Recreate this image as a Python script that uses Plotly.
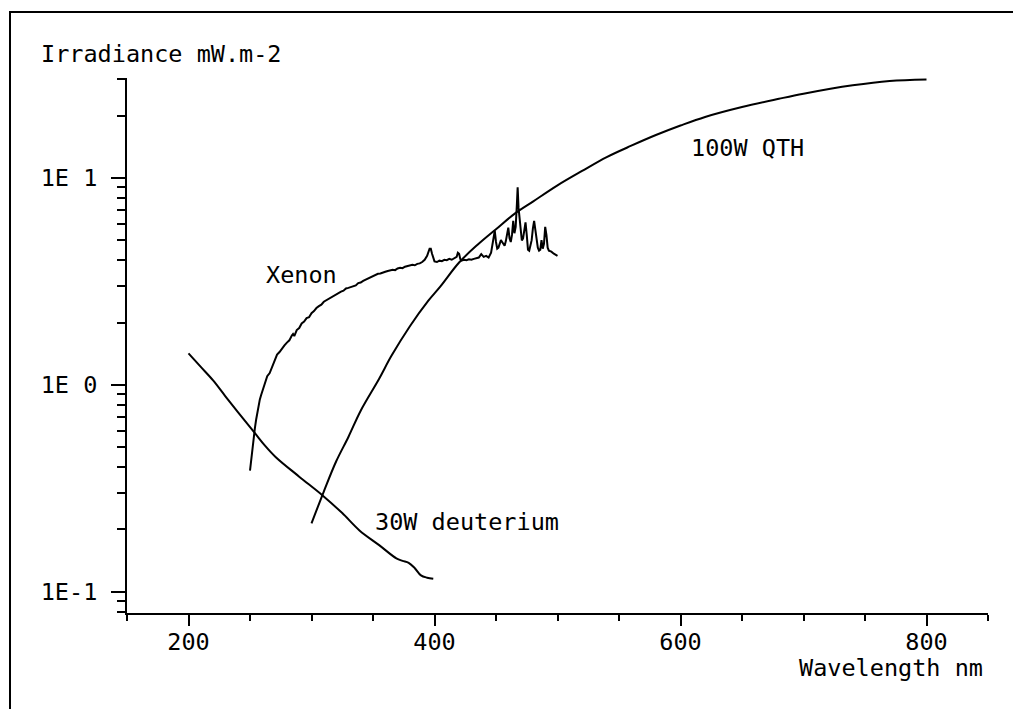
import math
import plotly.graph_objects as go

# ---------------- data ----------------
deut_nm = [200, 210, 220, 230, 240, 254, 262, 271, 290, 309, 325, 339, 355, 369, 374, 379, 384, 389, 394, 399]
deut_val = [1.42, 1.22, 1.05, 0.88, 0.74, 0.584, 0.51, 0.447, 0.36, 0.292, 0.24, 0.198, 0.168, 0.145, 0.141, 0.138, 0.13, 0.12, 0.117, 0.1156]

xe_nm = [250, 251, 252, 253, 254, 255, 256, 257, 258, 259, 260, 261, 262, 263, 264, 266, 268, 270,
         272, 274, 276, 278, 280, 282, 284, 285, 286, 288, 290, 292, 294, 296, 298, 300, 302, 304,
         306, 308, 310, 312, 314, 316, 318, 320, 322, 324, 326, 328, 330, 332, 334, 336, 338, 340,
         342, 344, 346, 348, 350, 352, 354, 356, 358, 360, 362, 364, 366, 368, 370, 372, 374, 376,
         378, 380, 382, 384, 386, 388, 390, 392, 394, 396, 397, 398, 400, 402, 404, 406, 408, 410,
         412, 414, 416, 418, 419, 420, 421, 422, 424, 426, 428, 430, 432, 434, 436, 438, 440, 442,
         444, 446, 447, 448, 449, 450, 451, 452, 453, 454, 455, 456, 457, 458, 459, 460, 461, 462,
         463, 464, 465, 466, 467, 467.6, 468.3, 469, 470, 471, 472, 473, 474, 475, 476, 477, 478,
         479, 480, 481, 482, 483, 484, 485, 486, 487, 488, 489, 490, 491, 492, 493, 495, 497, 499, 500]
xe_val = [0.385, 0.44, 0.50, 0.56, 0.62, 0.68, 0.74, 0.80, 0.85, 0.89, 0.93, 0.98, 1.02, 1.07, 1.10, 1.14, 1.22, 1.33,
          1.40, 1.44, 1.50, 1.55, 1.60, 1.64, 1.73, 1.76, 1.72, 1.84, 1.88, 1.98, 2.02, 2.10, 2.12, 2.22, 2.27, 2.35,
          2.40, 2.44, 2.52, 2.56, 2.62, 2.66, 2.70, 2.73, 2.78, 2.82, 2.85, 2.92, 2.94, 2.97, 2.99, 3.02, 3.10, 3.12,
          3.18, 3.22, 3.26, 3.30, 3.36, 3.38, 3.44, 3.45, 3.50, 3.52, 3.55, 3.57, 3.60, 3.58, 3.65, 3.68, 3.66, 3.72,
          3.75, 3.78, 3.80, 3.78, 3.84, 3.86, 3.92, 4.02, 4.20, 4.55, 4.55, 4.30, 3.95, 3.92, 3.98, 3.96, 4.02, 4.00,
          4.06, 4.02, 4.08, 4.15, 4.35, 4.30, 4.05, 3.98, 4.02, 4.00, 4.04, 4.02, 4.06, 4.10, 4.12, 4.28, 4.15, 4.20,
          4.12, 4.35, 4.70, 5.30, 5.55, 4.90, 4.55, 4.60, 4.85, 5.00, 4.90, 4.75, 4.70, 4.95, 5.40, 5.75, 5.10, 4.90,
          5.30, 6.20, 5.40, 5.80, 7.50, 9.00, 7.20, 6.45, 5.60, 4.98, 5.10, 5.60, 6.10, 5.30, 4.50, 4.45, 4.70,
          5.00, 5.70, 6.20, 5.60, 4.90, 4.60, 4.45, 4.50, 5.00, 4.55, 4.80, 5.80, 5.30, 4.60, 4.45, 4.40, 4.30, 4.22, 4.20]

qth_nm = [300, 310, 320, 330, 340, 355, 365, 380, 395, 405, 420, 435, 450, 465, 480, 500, 520, 540, 560,
          580, 600, 620, 650, 680, 700, 740, 770, 800]
qth_val = [0.214, 0.305, 0.426, 0.56, 0.75, 1.07, 1.38, 1.92, 2.55, 3.0, 3.9, 4.75, 5.65, 6.7, 7.68, 9.2, 10.8,
           12.6, 14.3, 16.1, 17.9, 19.7, 22.0, 24.1, 25.5, 28.0, 29.4, 29.9]

x_major = [200, 400, 600, 800]
x_minor = [150, 250, 300, 350, 450, 500, 550, 650, 700, 750, 850]
y_major = [0.1, 1, 10]
y_major_text = ["1E-1", "1E 0", "1E 1"]
y_minor = [0.08, 0.09, 0.2, 0.3, 0.4, 0.5, 0.6, 0.7, 0.8, 0.9, 2, 3, 4, 5, 6, 7, 8, 9, 20, 30]

labels = [("Xenon", 261.0, 3.41), ("100W QTH", 606.5, 13.96), ("30W deuterium", 350.0, 0.217)]

# ---------------- figure ----------------
FONT = "DejaVu Sans Mono"
FS = 23.5
W, H = 1013, 709
ML, MR, MT, MB = 127, 25, 78, 96
PW, PH = W - ML - MR, H - MT - MB

fig = go.Figure()
for xs, ys, shp in [(deut_nm, deut_val, "spline"), (xe_nm, xe_val, "linear"), (qth_nm, qth_val, "spline")]:
    fig.add_trace(go.Scatter(x=xs, y=ys, mode="lines", line=dict(color="black", width=2, shape=shp),
                             showlegend=False, hoverinfo="skip"))

for txt, lx, ly in labels:
    fig.add_annotation(x=lx, y=math.log10(ly), xref="x", yref="y", text=txt, showarrow=False,
                       xanchor="left", yanchor="middle", font=dict(family=FONT, size=FS, color="black"))

fig.add_annotation(x=(39 - ML) / PW, y=(MT + PH - 54.5) / PH, xref="paper", yref="paper",
                   text="Irradiance mW.m-2", showarrow=False, xanchor="left", yanchor="middle",
                   font=dict(family=FONT, size=FS, color="black"))
fig.add_annotation(x=(985 - ML) / PW, y=(MT + PH - 668) / PH, xref="paper", yref="paper",
                   text="Wavelength nm", showarrow=False, xanchor="right", yanchor="middle",
                   font=dict(family=FONT, size=FS, color="black"))

# outer frame
fig.add_shape(type="rect", xref="paper", yref="paper",
              x0=(10 - ML) / PW, x1=1.2, y0=(MT + PH - 12) / PH, y1=-0.3,
              line=dict(color="black", width=2), fillcolor="rgba(0,0,0,0)", layer="above")

fig.update_layout(
    width=W, height=H,
    margin=dict(l=ML, r=MR, t=MT, b=MB, pad=0),
    paper_bgcolor="white", plot_bgcolor="white",
    font=dict(family=FONT, size=FS, color="black"),
    xaxis=dict(range=[150, 850], showgrid=False, zeroline=False, showline=True, linecolor="black", linewidth=2,
               tickmode="array", tickvals=x_major, ticks="outside", ticklen=11, tickwidth=2, tickcolor="black",
               ticklabelstandoff=-4,
               minor=dict(tickmode="array", tickvals=x_minor, ticks="outside", ticklen=6, tickwidth=2,
                          tickcolor="black", showgrid=False)),
    yaxis=dict(type="log", range=[-1.1025, 1.4825], showgrid=False, zeroline=False, showline=True,
               linecolor="black", linewidth=2,
               tickmode="array", tickvals=y_major, ticktext=y_major_text, ticks="outside", ticklen=14,
               tickwidth=2, tickcolor="black", ticklabelstandoff=9,
               minor=dict(tickmode="array", tickvals=y_minor, ticks="outside", ticklen=8, tickwidth=2,
                          tickcolor="black", showgrid=False)),
)

fig.write_html("out.html", config={"displayModeBar": False},
               post_script="document.body.style.margin='0';")
